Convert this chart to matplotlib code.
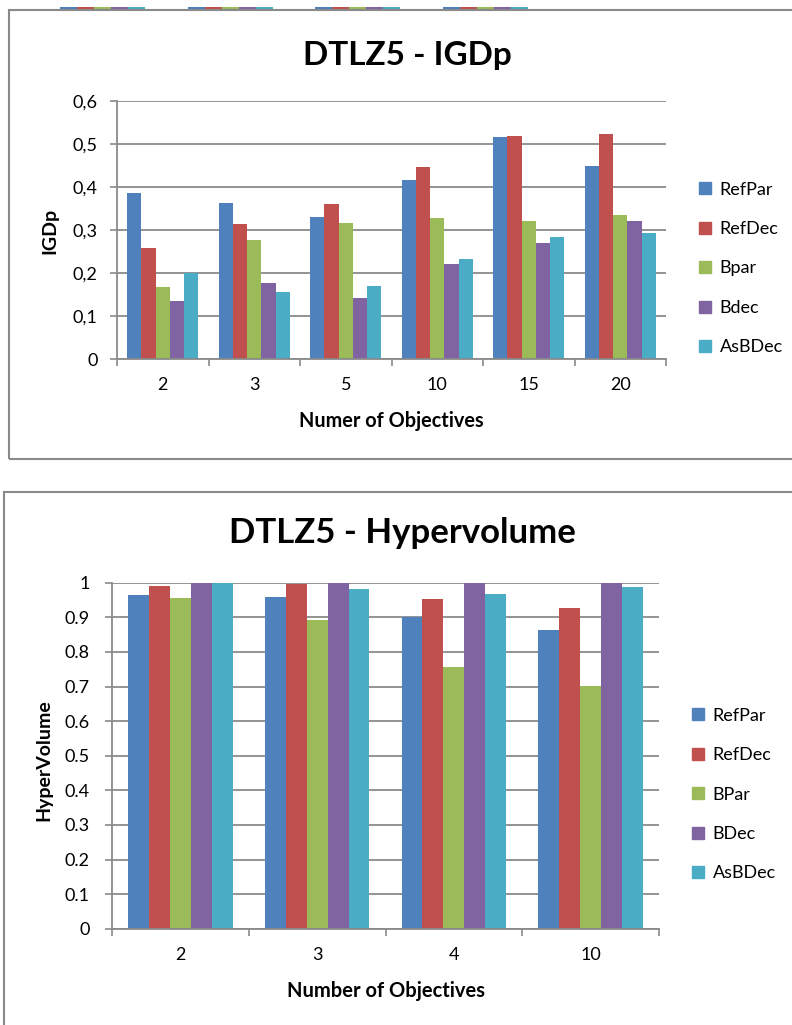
import matplotlib
matplotlib.use("Agg")
import matplotlib.pyplot as plt
import numpy as np
from matplotlib.patches import Rectangle, Patch

plt.rcParams['font.family'] = ['Lato', 'DejaVu Sans']

W, H = 792, 1025
colors = ["#4F81BD", "#C0504D", "#9BBB59", "#8064A2", "#4BACC6"]
grey = "#8a8a8a"

# IGDp data
igd_cats = ["2", "3", "5", "10", "15", "20"]
igd_series = ["RefPar", "RefDec", "Bpar", "Bdec", "AsBDec"]
igd_refpar = [0.387, 0.362, 0.330, 0.416, 0.517, 0.448]
igd_refdec = [0.259, 0.314, 0.360, 0.447, 0.519, 0.524]
igd_bpar = [0.167, 0.277, 0.316, 0.327, 0.320, 0.334]
igd_bdec = [0.136, 0.176, 0.142, 0.222, 0.270, 0.321]
igd_asbdec = [0.200, 0.156, 0.170, 0.233, 0.284, 0.293]
igd_ticks = [0, 0.1, 0.2, 0.3, 0.4, 0.5, 0.6]
igd_ticklabels = ["0", "0,1", "0,2", "0,3", "0,4", "0,5", "0,6"]

# Hypervolume data
hv_cats = ["2", "3", "4", "10"]
hv_series = ["RefPar", "RefDec", "BPar", "BDec", "AsBDec"]
hv_refpar = [0.964, 0.958, 0.900, 0.864]
hv_refdec = [0.991, 0.997, 0.954, 0.927]
hv_bpar = [0.955, 0.891, 0.757, 0.702]
hv_bdec = [1.0, 1.0, 1.0, 1.0]
hv_asbdec = [0.999, 0.983, 0.967, 0.988]
hv_ticks = [0, 0.1, 0.2, 0.3, 0.4, 0.5, 0.6, 0.7, 0.8, 0.9, 1]
hv_ticklabels = ["0", "0.1", "0.2", "0.3", "0.4", "0.5", "0.6", "0.7", "0.8", "0.9", "1"]

# base of the previous chart on the page, cut off at the top
prev_cats = ["a", "b", "c", "d"]
prev_vals = [1.0, 1.0, 1.0, 1.0]


def fx(px):
    return px / W


def fy(py):
    return 1 - py / H


def bars(ax, cats, series_vals, width):
    x = np.arange(len(cats))
    n = len(series_vals)
    for i, vals in enumerate(series_vals):
        ax.bar(x + (i - (n - 1) / 2) * width, vals, width, color=colors[i], zorder=3)


def style(ax, cats, ticks, ticklabels, ylim, ypad):
    ax.set_xlim(-0.5, len(cats) - 0.5)
    ax.set_ylim(*ylim)
    ax.set_yticks(ticks)
    ax.set_yticklabels(ticklabels, fontsize=13)
    ax.set_xticks(np.arange(len(cats)))
    ax.set_xticklabels(cats, fontsize=13)
    ax.set_xticks(np.arange(len(cats) + 1) - 0.5, minor=True)
    ax.tick_params(axis="x", which="major", length=0, pad=13)
    ax.tick_params(axis="x", which="minor", length=5, width=1.2, color=grey, direction="out")
    ax.tick_params(axis="y", length=5, width=1.2, color=grey, pad=ypad)
    ax.yaxis.grid(True, color=grey, lw=1.3, zorder=0)
    ax.set_axisbelow(True)
    for s in ["top", "right"]:
        ax.spines[s].set_visible(False)
    for s in ["left", "bottom"]:
        ax.spines[s].set_color(grey)
        ax.spines[s].set_linewidth(1.3)
        ax.spines[s].set_zorder(4)


def legend(handles_labels, x, y):
    fig.legend(handles=[Patch(color=c, label=l) for c, l in zip(colors, handles_labels)],
               loc="center left", bbox_to_anchor=(fx(x), fy(y)), frameon=False, fontsize=13,
               handlelength=0.65, handleheight=0.65, handletextpad=0.5, labelspacing=1.3,
               borderpad=0, borderaxespad=0)


fig = plt.figure(figsize=(W / 100, H / 100), dpi=100)

# frames around the two charts
fig.add_artist(Rectangle((fx(8.7), fy(459.3)), 1.2, fy(10) - fy(459.3), transform=fig.transFigure,
                         fill=False, edgecolor=grey, lw=1.5))
fig.add_artist(Rectangle((fx(4), fy(1030)), 1.2, fy(491.7) - fy(1030), transform=fig.transFigure,
                         fill=False, edgecolor=grey, lw=1.5))

# strip of the chart above
axp = fig.add_axes([0, fy(9), 1, fy(6.5) - fy(9)])
xp = np.arange(len(prev_cats))
for i in range(5):
    axp.bar(xp + (i - 2) * 0.133, prev_vals, 0.133, color=colors[i])
axp.set_xlim(-102.5 / 127.7, (792 - 102.5) / 127.7)
axp.set_ylim(0, 0.02)
axp.axis("off")

# top chart: IGDp
ax1 = fig.add_axes([fx(117), fy(359), fx(666) - fx(117), fy(101) - fy(359)])
bars(ax1, igd_cats, [igd_refpar, igd_refdec, igd_bpar, igd_bdec, igd_asbdec], 0.155)
style(ax1, igd_cats, igd_ticks, igd_ticklabels, (0, 0.6), 9)
fig.text(fx(407.5), fy(65), "DTLZ5 - IGDp", ha="center", va="baseline", fontsize=24, fontweight="bold")
fig.text(fx(391), fy(427), "Numer of Objectives", ha="center", va="baseline", fontsize=14.3, fontweight="bold")
fig.text(fx(50), fy(231), "IGDp", ha="center", va="center", rotation=90, fontsize=14, fontweight="bold")
legend(igd_series, 699, 268.5)

# bottom chart: Hypervolume
ax2 = fig.add_axes([fx(112), fy(928.7), fx(659) - fx(112), fy(582.7) - fy(928.7)])
bars(ax2, hv_cats, [hv_refpar, hv_refdec, hv_bpar, hv_bdec, hv_asbdec], 0.153)
style(ax2, hv_cats, hv_ticks, hv_ticklabels, (0, 1), 11)
fig.text(fx(402), fy(543.3), "DTLZ5 - Hypervolume", ha="center", va="baseline", fontsize=25, fontweight="bold")
fig.text(fx(386), fy(997), "Number of Objectives", ha="center", va="baseline", fontsize=14.5, fontweight="bold")
fig.text(fx(44), fy(760), "HyperVolume", ha="center", va="center", rotation=90, fontsize=14, fontweight="bold")
legend(hv_series, 692, 794.5)

fig.savefig("out.png", dpi=100)
